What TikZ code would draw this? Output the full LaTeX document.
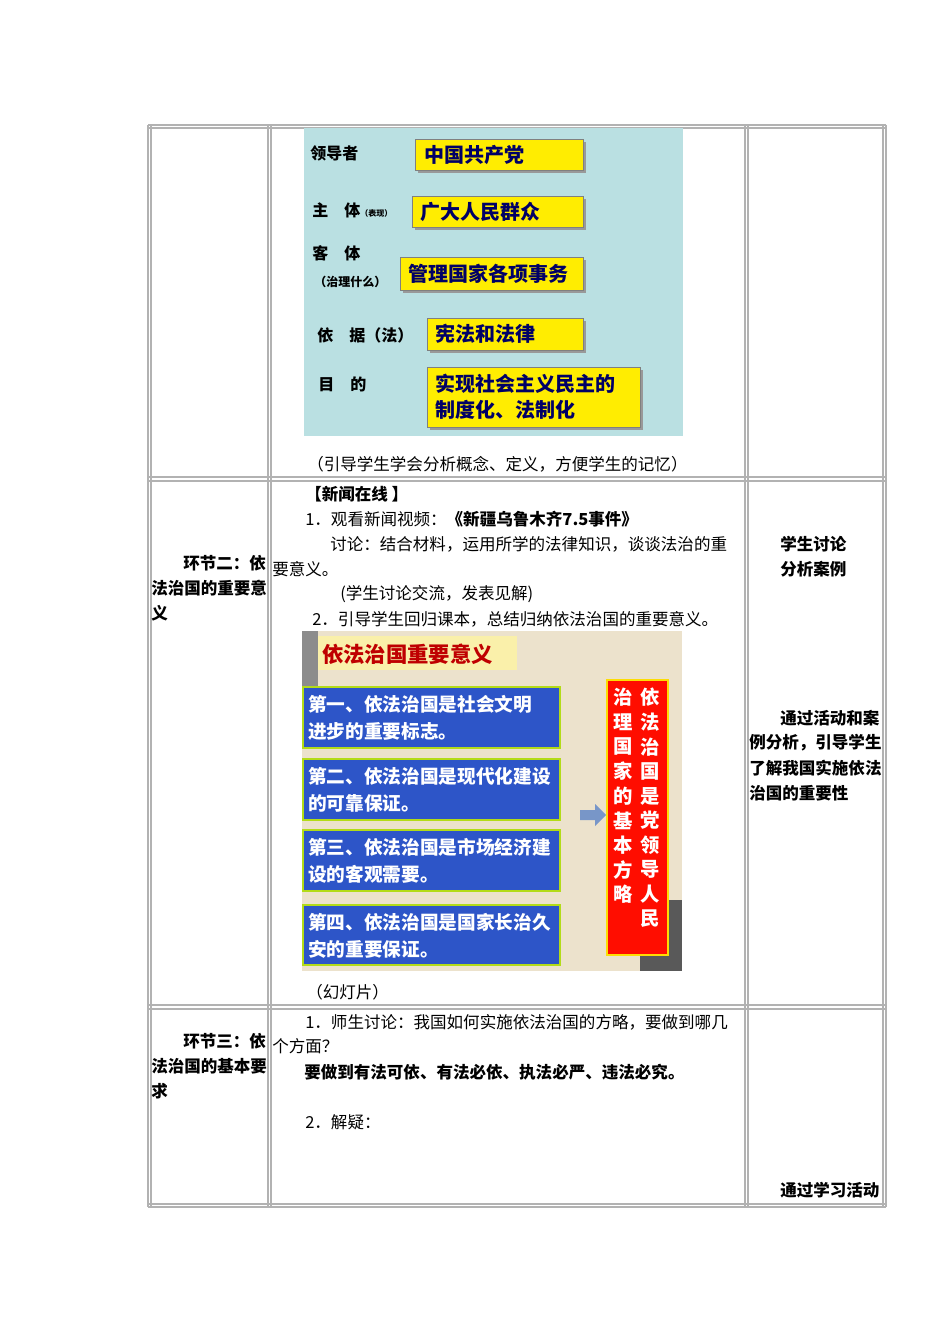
\documentclass[tikz,border=0pt]{standalone}
\usepackage{fontspec}
\setmainfont{Noto Sans CJK SC}
\begin{document}
\begin{tikzpicture}[x=0.75pt,y=-0.75pt,
  tx/.style={anchor=west,inner sep=0pt,font=\fontsize{12.4}{13}\selectfont},
  txb/.style={tx,font=\fontsize{12.4}{13}\selectfont\bfseries},
  grid/.style={draw=black!30,line width=0.8pt},
  sl/.style={anchor=west,inner sep=0pt,font=\fontsize{12}{13}\selectfont\bfseries},
  yt/.style={anchor=west,inner sep=0pt,font=\fontsize{15}{16}\selectfont\bfseries,text=blue!40!black},
  bb/.style={fill={rgb,255:red,45;green,85;blue,200},draw=yellow!70!green,line width=1pt},
  bt/.style={anchor=west,inner sep=0pt,align=left,font=\fontsize{14}{20.5}\selectfont\bfseries,text=white},
  rt/.style={inner sep=0pt,font=\fontsize{14.5}{15}\selectfont\bfseries,text=white}]
\useasboundingbox[fill=white] (0,0) rectangle (950,1344);
% table grid (double lines)
\foreach \x in {148,151,268,271,745,748,883,886} \draw[grid] (\x,125) -- (\x,1207);
\foreach \y in {125,128,477,481,1005,1009,1204,1207} \draw[grid] (148,\y) -- (886,\y);
% picture 1
\fill[fill={rgb,255:red,186;green,224;blue,226}] (304,128) rectangle (683,436);
\foreach \a/\b/\c/\d in {415/139/583/170,412/196/583/227,400/257/583/290,427/318/583/350,427/367/640/427}
  {\fill[black!40] (\a+3,\b+3) rectangle (\c+3,\d+3);
   \fill[yellow!95!orange,draw=black!50,line width=0.4pt] (\a,\b) rectangle (\c,\d);}
\node[sl] (l1) at (310,153) {领导者};
\node[sl] (l2) at (312,210) {主\quad 体{\fontsize{6}{7}\selectfont（表现）}};
\node[sl] (l3) at (312,253) {客\quad 体};
\node[sl] (l4) at (314,282) {{\fontsize{9}{10}\selectfont（治理什么）}};
\node[sl] (l5) at (317,335) {依\quad 据（法）};
\node[sl] (l6) at (318,384) {目\quad 的};
\node[yt] (y1) at (424,155) {中国共产党};
\node[yt] (y2) at (420,212) {广大人民群众};
\node[yt] (y3) at (408,274) {管理国家各项事务};
\node[yt] (y4) at (435,334) {宪法和法律};
\node[yt,align=left,font=\fontsize{15}{19.5}\selectfont\bfseries] (y5) at (435,397) {实现社会主义民主的\\制度化、法制化};
\node[tx] (c1) at (307,464) {（引导学生学会分析概念、定义，方便学生的记忆）};
% row 2 text
\node[txb] (n1) at (305,494) {【新闻在线 】};
\node[tx] (n2) at (305,519) {1．观看新闻视频：\textbf{《新疆乌鲁木齐7.5事件》}};
\node[tx] (n3) at (330,544) {讨论：结合材料，运用所学的法律知识，谈谈法治的重};
\node[tx] (n4) at (272,569) {要意义。};
\node[tx] (n5) at (340,594) {(学生讨论交流，发表见解)};
\node[tx] (n6) at (312,619) {2．引导学生回归课本，总结归纳依法治国的重要意义。};
% picture 2
\fill[fill={rgb,255:red,236;green,226;blue,204}] (302,631) rectangle (682,971);
\fill[black!45] (302,631) rectangle (318,690);
\fill[fill={rgb,255:red,250;green,240;blue,170}] (318,636) rectangle (517,670);
\node[anchor=west,inner sep=0pt,font=\fontsize{16}{17}\selectfont\bfseries,text=red!75!black] (t2) at (322,654) {依法治国重要意义};
\fill[black!65] (640,900) rectangle (682,971);
\foreach \a/\b in {687/748,759/820,830/891,905/965} \draw[bb] (303,\a) rectangle (560,\b);
\node[bt] (b1) at (308,718) {第一、依法治国是社会文明\\进步的重要标志。};
\node[bt] (b2) at (308,790) {第二、依法治国是现代化建设\\的可靠保证。};
\node[bt] (b3) at (308,861) {第三、依法治国是市场经济建\\设的客观需要。};
\node[bt] (b4) at (308,936) {第四、依法治国是国家长治久\\安的重要保证。};
\fill[fill={rgb,255:red,120;green,150;blue,200}] (580,810) -- (595,810) -- (595,804) -- (606,815) -- (595,826) -- (595,820) -- (580,820) -- cycle;
\draw[fill=red!90!orange,draw=yellow!80!orange,line width=1pt] (607,680) rectangle (668,955);
\foreach \c [count=\i] in {依,法,治,国,是,党,领,导,人,民} \node[rt] at (650,673+24.6*\i) {\c};
\foreach \c [count=\i] in {治,理,国,家,的,基,本,方,略} \node[rt] at (623,673+24.6*\i) {\c};
\node[tx] (c2) at (306,992) {（幻灯片）};
% left / right columns row 2
\node[txb] (s1) at (183,563) {环节二：依};
\node[txb] (s2) at (151,588) {法治国的重要意};
\node[txb] (s3) at (151,613) {义};
\node[txb] (r1) at (780,544) {学生讨论};
\node[txb] (r2) at (780,569) {分析案例};
\node[txb] (r3) at (780,718) {通过活动和案};
\node[txb] (r4) at (749,743) {例分析，引导学生};
\node[txb] (r5) at (749,768) {了解我国实施依法};
\node[txb] (r6) at (749,793) {治国的重要性};
% row 3
\node[tx] (m1) at (305,1022) {1．师生讨论：我国如何实施依法治国的方略，要做到哪几};
\node[tx] (m2) at (272,1046) {个方面？};
\node[txb] (m3) at (304,1072) {要做到有法可依、有法必依、执法必严、违法必究。};
\node[tx] (m4) at (305,1122) {2．解疑：};
\node[txb] (s4) at (183,1041) {环节三：依};
\node[txb] (s5) at (151,1066) {法治国的基本要};
\node[txb] (s6) at (151,1091) {求};
\node[txb] (r7) at (780,1190) {通过学习活动};
\end{tikzpicture}
\end{document}
